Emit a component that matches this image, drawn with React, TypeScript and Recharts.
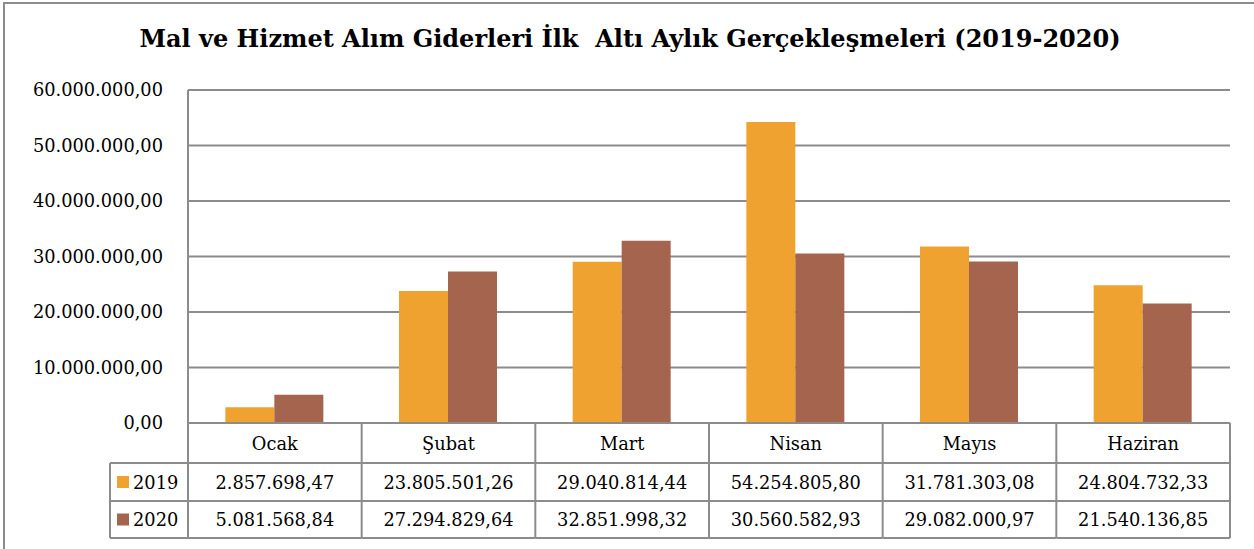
import React from 'react';
import { BarChart, Bar, XAxis, YAxis, CartesianGrid } from 'recharts';

const categories = ['Ocak', 'Şubat', 'Mart', 'Nisan', 'Mayıs', 'Haziran'];
const values2019 = [2857698.47, 23805501.26, 29040814.44, 54254805.8, 31781303.08, 24804732.33];
const values2020 = [5081568.84, 27294829.64, 32851998.32, 30560582.93, 29082000.97, 21540136.85];
const seriesNames = ['2019', '2020'];
const yTicks = [0, 10000000, 20000000, 30000000, 40000000, 50000000, 60000000];
const title = 'Mal ve Hizmet Alım Giderleri İlk  Altı Aylık Gerçekleşmeleri (2019-2020)';

const COLORS = ['#EFA22F', '#A5644E'];
const FONT = '"DejaVu Serif", serif';
const GRID = '#8c8c8c';
const FS = 17.8;

const W = 1254;
const H = 549;
const PLOT_LEFT = 188;
const PLOT_RIGHT = 1230;
const PLOT_TOP = 90;
const XAXIS_H = 126;
const BAND = (PLOT_RIGHT - PLOT_LEFT) / categories.length;
const ROW1 = 40;
const ROW2 = 38;
const ROW3 = 37;
const LEGEND_COL = 78;

const fmt = (n: number) => {
  const [intPart, dec] = n.toFixed(2).split('.');
  const withDots = intPart.replace(/\B(?=(\d{3})+(?!\d))/g, '.');
  return `${withDots},${dec}`;
};

const data = categories.map((c, i) => ({ name: c, y2019: values2019[i], y2020: values2020[i] }));

const XTick = (props: any) => {
  const { x, y, payload } = props;
  const i = categories.indexOf(payload.value);
  const left = x - BAND / 2;
  const right = x + BAND / 2;
  const y1 = y + ROW1;
  const y2 = y1 + ROW2;
  const y3 = y2 + ROW3;
  const textStyle = { fontFamily: FONT, fontSize: FS, fill: '#000' };
  return (
    <g>
      <line x1={right} y1={y} x2={right} y2={y3} stroke={GRID} strokeWidth={2} />
      <line x1={left} y1={y1} x2={right} y2={y1} stroke={GRID} strokeWidth={2} />
      <line x1={left} y1={y2} x2={right} y2={y2} stroke={GRID} strokeWidth={2} />
      <line x1={left} y1={y3} x2={right} y2={y3} stroke={GRID} strokeWidth={2} />
      <text x={x} y={y + ROW1 / 2} textAnchor="middle" dominantBaseline="central" style={textStyle}>
        {payload.value}
      </text>
      <text x={x} y={y1 + ROW2 / 2} textAnchor="middle" dominantBaseline="central" style={textStyle}>
        {fmt(values2019[i])}
      </text>
      <text x={x} y={y2 + ROW3 / 2} textAnchor="middle" dominantBaseline="central" style={textStyle}>
        {fmt(values2020[i])}
      </text>
      {i === 0 && (
        <g>
          <line x1={left} y1={y} x2={left} y2={y3} stroke={GRID} strokeWidth={2} />
          <line x1={left - LEGEND_COL} y1={y1} x2={left} y2={y1} stroke={GRID} strokeWidth={2} />
          <line x1={left - LEGEND_COL} y1={y2} x2={left} y2={y2} stroke={GRID} strokeWidth={2} />
          <line x1={left - LEGEND_COL} y1={y3} x2={left} y2={y3} stroke={GRID} strokeWidth={2} />
          <line x1={left - LEGEND_COL} y1={y1} x2={left - LEGEND_COL} y2={y3} stroke={GRID} strokeWidth={2} />
          {seriesNames.map((s, k) => {
            const top = k === 0 ? y1 : y2;
            const h = k === 0 ? ROW2 : ROW3;
            const cy = top + h / 2;
            return (
              <g key={s}>
                <rect x={left - LEGEND_COL + 7} y={cy - 6} width={12} height={12} fill={COLORS[k]} />
                <text x={left - LEGEND_COL + 23} y={cy} dominantBaseline="central" style={textStyle}>
                  {s}
                </text>
              </g>
            );
          })}
        </g>
      )}
    </g>
  );
};

export default function App() {
  return (
    <div style={{ position: 'absolute', left: 0, top: 0, width: W, height: H, background: '#fff' }}>
      <BarChart
        width={W}
        height={H}
        data={data}
        margin={{ top: PLOT_TOP, right: W - PLOT_RIGHT, bottom: 0, left: 0 }}
        barGap={0}
        barCategoryGap="21.5%"
      >
        <CartesianGrid vertical={false} stroke={GRID} strokeWidth={2} />
        <XAxis
          dataKey="name"
          height={XAXIS_H}
          interval={0}
          tickLine={false}
          tickSize={0}
          tickMargin={0}
          axisLine={{ stroke: GRID, strokeWidth: 2 }}
          tick={<XTick />}
        />
        <YAxis
          width={PLOT_LEFT}
          domain={[0, 60000000]}
          ticks={yTicks}
          tickFormatter={(v: number) => fmt(v)}
          tickLine={false}
          tickSize={0}
          tickMargin={25}
          axisLine={{ stroke: GRID, strokeWidth: 2 }}
          tick={{ fill: '#000', fontSize: FS, fontFamily: FONT }}
        />
        <Bar dataKey="y2019" name="2019" fill={COLORS[0]} isAnimationActive={false} />
        <Bar dataKey="y2020" name="2020" fill={COLORS[1]} isAnimationActive={false} />
      </BarChart>
      <svg
        width={W}
        height={H}
        style={{ position: 'absolute', left: 0, top: 0, pointerEvents: 'none' }}
      >
        <rect x={4} y={3} width={1400} height={700} fill="none" stroke={GRID} strokeWidth={2} />
        <text
          x={630}
          y={47}
          textAnchor="middle"
          style={{ fontFamily: FONT, fontSize: 24, fontWeight: 'bold', fill: '#000', whiteSpace: 'pre' }}
        >
          {title}
        </text>
      </svg>
    </div>
  );
}
